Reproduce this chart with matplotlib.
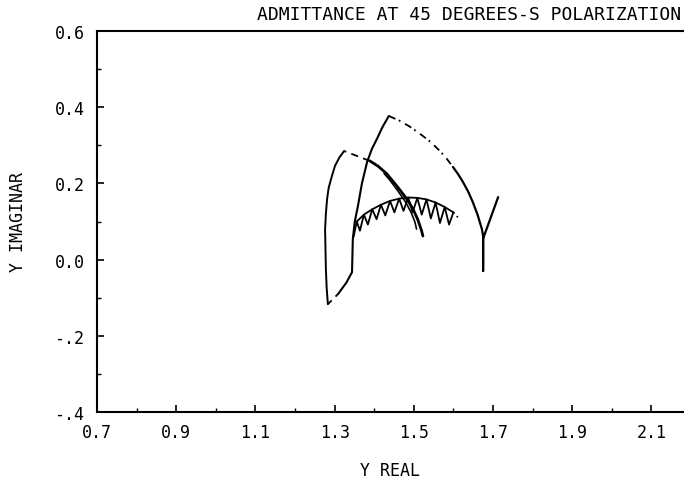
import matplotlib
matplotlib.use("Agg")
import matplotlib.pyplot as plt
from matplotlib.ticker import MultipleLocator

plt.rcParams['font.family'] = ['DejaVu Sans Mono']

# Admittance locus, traced as one pen path (pieces differ only in pen style)
arc_down_x = [1.523, 1.519, 1.510, 1.498, 1.485, 1.473, 1.455, 1.432, 1.410, 1.389]
arc_down_y = [0.062, 0.078, 0.105, 0.133, 0.155, 0.172, 0.196, 0.225, 0.245, 0.259]
arc_down2_x = [1.507, 1.503, 1.494, 1.480, 1.460, 1.440, 1.425]
arc_down2_y = [0.080, 0.098, 0.122, 0.150, 0.180, 0.208, 0.226]
jump1_x = [1.389, 1.324]
jump1_y = [0.259, 0.285]
left_x = [1.324, 1.312, 1.301, 1.292, 1.285, 1.281, 1.278, 1.276, 1.277, 1.278, 1.280, 1.283]
left_y = [0.285, 0.268, 0.246, 0.215, 0.188, 0.159, 0.120, 0.080, 0.025, -0.025, -0.075, -0.117]
jump2_x = [1.283, 1.309]
jump2_y = [-0.117, -0.090]
rise_x = [1.309, 1.330, 1.344, 1.345, 1.346, 1.351, 1.359, 1.369, 1.382, 1.394, 1.407, 1.421, 1.437]
rise_y = [-0.090, -0.060, -0.033, 0.010, 0.054, 0.100, 0.141, 0.200, 0.256, 0.290, 0.317, 0.348, 0.377]
top_x = [1.437, 1.465, 1.490, 1.516, 1.542, 1.566, 1.583, 1.599]
top_y = [0.377, 0.364, 0.349, 0.330, 0.309, 0.285, 0.265, 0.243]
tail_x = [1.599, 1.612, 1.624, 1.637, 1.649, 1.661, 1.672, 1.675, 1.675, 1.675, 1.713]
tail_y = [0.243, 0.224, 0.204, 0.179, 0.151, 0.118, 0.080, 0.062, -0.030, 0.055, 0.164]

# second locus (sawtooth hanging under a smooth arc)
zig_x = [1.348, 1.356, 1.364, 1.374, 1.384, 1.395, 1.406, 1.417, 1.428, 1.440,
         1.451, 1.463, 1.474, 1.486, 1.497, 1.509, 1.520, 1.532, 1.543, 1.555,
         1.566, 1.578, 1.589, 1.600]
zig_y = [0.060, 0.100, 0.076, 0.118, 0.092, 0.132, 0.106, 0.144, 0.116, 0.154,
         0.124, 0.160, 0.128, 0.163, 0.124, 0.162, 0.118, 0.158, 0.108, 0.150,
         0.096, 0.138, 0.092, 0.124]
zarc_x = [1.356, 1.374, 1.395, 1.417, 1.440, 1.463, 1.486, 1.509, 1.532, 1.555, 1.578, 1.600]
zarc_y = [0.100, 0.118, 0.132, 0.144, 0.154, 0.160, 0.163, 0.162, 0.158, 0.150, 0.138, 0.124]
zig_tail_x = [1.600, 1.612]
zig_tail_y = [0.124, 0.110]

x_ticks = [0.7, 0.9, 1.1, 1.3, 1.5, 1.7, 1.9, 2.1]
x_labels = ['0.7', '0.9', '1.1', '1.3', '1.5', '1.7', '1.9', '2.1']
y_ticks = [0.6, 0.4, 0.2, 0.0, -0.2, -0.4]
y_labels = ['0.6', '0.4', '0.2', '0.0', '-.2', '-.4']

fig = plt.figure(figsize=(6.84, 4.81), dpi=100)
ax = fig.add_axes([97 / 684, 68 / 481, 587 / 684, 381 / 481])

k = dict(color='black', solid_capstyle='round', solid_joinstyle='round')
ax.plot(arc_down_x, arc_down_y, lw=2.0, **k)
ax.plot(arc_down2_x, arc_down2_y, lw=1.2, **k)
ax.plot(jump1_x, jump1_y, lw=1.3, ls=(0, (4, 3)), **k)
ax.plot(left_x, left_y, lw=1.4, **k)
ax.plot(jump2_x, jump2_y, lw=1.3, ls=(0, (3, 3)), **k)
ax.plot(rise_x, rise_y, lw=1.5, **k)
ax.plot(top_x, top_y, lw=1.3, ls=(0, (4, 2, 1, 3)), **k)
ax.plot(tail_x, tail_y, lw=1.6, **k)
ax.plot(zig_x, zig_y, lw=1.3, **k)
ax.plot(zarc_x, zarc_y, lw=1.3, **k)
ax.plot(zig_tail_x, zig_tail_y, lw=1.2, ls=(0, (1, 2)), **k)

ax.set_xticks(x_ticks)
ax.set_xticklabels(x_labels)
ax.set_yticks(y_ticks)
ax.set_yticklabels(y_labels)
ax.xaxis.set_minor_locator(MultipleLocator(0.1))
ax.yaxis.set_minor_locator(MultipleLocator(0.1))
ax.set_xlim(0.7, 0.7 + 587 / 396)
ax.set_ylim(-0.4, 0.6)

ax.tick_params(which='major', direction='in', length=5, width=1.2,
               labelsize=12, top=False, right=False)
ax.tick_params(axis='x', which='major', pad=8)
ax.tick_params(axis='y', which='major', pad=9)
ax.tick_params(which='minor', direction='in', length=3, width=1.0,
               top=False, right=False)

for side in ['left', 'bottom', 'top']:
    ax.spines[side].set_linewidth(1.5)
ax.spines['right'].set_visible(False)

ax.set_xlabel('Y REAL', fontsize=12, labelpad=14)
ax.set_ylabel('Y IMAGINAR', fontsize=12, labelpad=20)
fig.text(469 / 684, 1 - 15 / 481, 'ADMITTANCE AT 45 DEGREES-S POLARIZATION',
         fontsize=13, ha='center', va='center')

fig.savefig('out.png', dpi=100)
